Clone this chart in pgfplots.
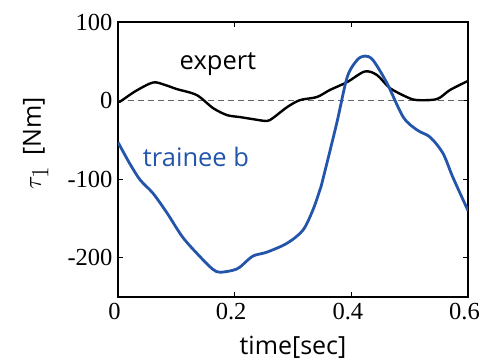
\documentclass[border=0pt]{standalone}
\usepackage{pgfplots}
\pgfplotsset{compat=1.18}
\usepackage{fontspec}
\setmainfont{Liberation Serif}
\newfontfamily\labelfont{Open Sans}
\definecolor{traineeblue}{RGB}{35,85,170}
\begin{document}
\begin{tikzpicture}
\path[use as bounding box] (-118pt,-65pt) rectangle (362pt,297pt);
\begin{axis}[
  at={(0pt,0pt)}, anchor=south west,
  scale only axis, width=350pt, height=275pt,
  xmin=0, xmax=0.6, ymin=-250, ymax=100,
  xtick={0,0.2,0.4,0.6}, xticklabels={0,0.2,0.4,0.6},
  ytick={-200,-100,0,100}, yticklabels={-200,-100,0,100},
  tick align=inside, major tick length=5pt,
  tick style={black, line width=0.8pt},
  axis line style={black, line width=1.1pt},
  ticklabel style={font=\fontsize{24.5}{28}\selectfont},
  xticklabel style={yshift=-3pt, xshift=-3.5pt},
  yticklabel style={xshift=-2pt},
  xlabel={\labelfont time[sec]},
  ylabel={{\fontsize{33}{36}\selectfont$\tau_1$}\kern11pt{\labelfont[Nm]}},
  label style={font=\fontsize{25}{28}\selectfont},
  xlabel style={at={(axis description cs:0.5,0)}, anchor=north, yshift=-36pt},
  ylabel style={at={(axis description cs:0,0.56)}, anchor=south, yshift=66pt},
  clip=true,
]
\addplot[gray!80!black, dashed, line width=0.9pt, dash pattern=on 6pt off 4pt] coordinates {(0,0) (0.6,0)};
\addplot[black, line width=2.4pt, smooth, tension=0.5] coordinates {
(0,0) (0.003,-1.5) (0.03,12) (0.06,23) (0.08,20) (0.101,14.6) (0.135,7) (0.163,-9.6)
(0.187,-18.5) (0.209,-21) (0.231,-23.6) (0.255,-26) (0.266,-22) (0.29,-8.3)
(0.312,0.6) (0.341,4.5) (0.363,13.4) (0.393,23.6) (0.423,37) (0.444,32.5)
(0.466,16) (0.495,4.5) (0.513,0.6) (0.547,2) (0.569,13.4) (0.6,25)
};
\addplot[traineeblue, line width=2.8pt, smooth, tension=0.5] coordinates {
(0,-53) (0.02,-80) (0.038,-101) (0.06,-118) (0.084,-143) (0.111,-174) (0.141,-199)
(0.163,-215) (0.175,-218.5) (0.197,-216) (0.209,-212) (0.231,-198) (0.255,-193)
(0.29,-181.5) (0.317,-165) (0.334,-139.5) (0.346,-114) (0.351,-101) (0.375,-28.7)
(0.393,30) (0.41,51.6) (0.423,56.7) (0.437,51.6) (0.461,22.3) (0.489,-21)
(0.513,-37.6) (0.535,-46.5) (0.557,-67) (0.574,-97.5) (0.6,-140)
};
\end{axis}
\node[font=\labelfont\fontsize{25.5}{28}\selectfont, text=black, anchor=center] at (100pt,233pt) {expert};
\node[font=\labelfont\fontsize{25.5}{28}\selectfont, text=traineeblue, anchor=center] at (78pt,140pt) {trainee b};
\end{tikzpicture}
\end{document}
